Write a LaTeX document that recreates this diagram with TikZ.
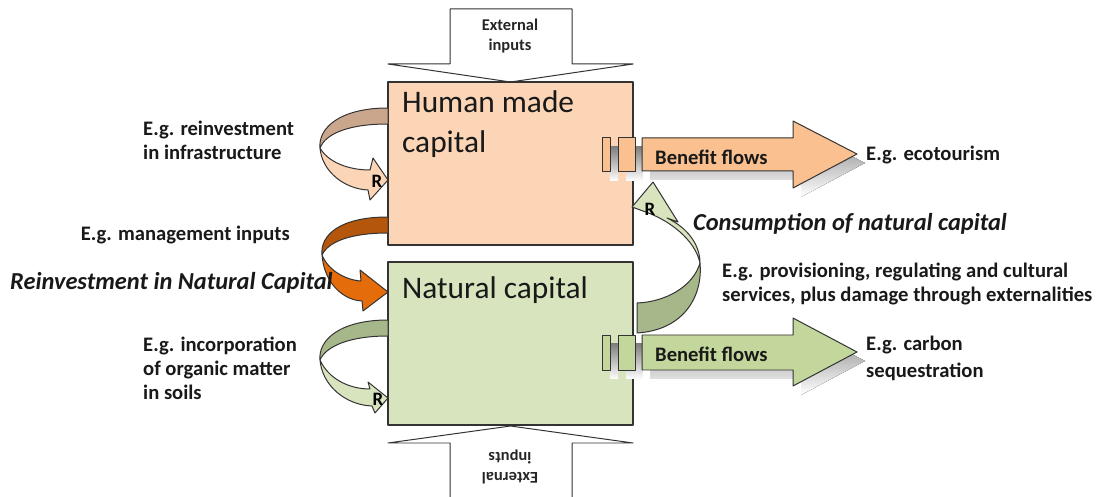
\documentclass[tikz,border=0pt]{standalone}
\usepackage{fontspec}
\setmainfont{Carlito}

\definecolor{hmfill}{HTML}{FBD5B5}
\definecolor{hmback}{HTML}{C9A68C}
\definecolor{hmflow}{HTML}{FAC090}
\definecolor{ncfill}{HTML}{D7E4BD}
\definecolor{ncback}{HTML}{A6B78A}
\definecolor{ncflow}{HTML}{C3D69B}
\definecolor{orfront}{HTML}{E46C0A}
\definecolor{orback}{HTML}{B4560C}
\definecolor{shade}{HTML}{C8C8C8}

\tikzset{
  edge/.style={draw=black!80, line width=1pt},
  capbox/.style={edge, line width=1.3pt, minimum width=245bp, minimum height=163bp, inner sep=0pt},
  lbl/.style={font=\fontsize{20.7}{24}\selectfont\bfseries, align=left, inner sep=0pt, text=black!90},
  bigital/.style={font=\fontsize{24.5}{28}\selectfont\bfseries\itshape, inner sep=0pt, text=black!90},
  captext/.style={font=\fontsize{31.5}{40}\selectfont, align=left, inner sep=0pt, text=black!90},
  rmark/.style={font=\fontsize{19}{19}\selectfont\bfseries, inner sep=0pt},
  small/.style={font=\fontsize{16.5}{20}\selectfont\bfseries, align=center, inner sep=0pt, text=black!85}
}

\begin{document}
\begin{tikzpicture}[x=1bp, y=-1bp, line join=round]
\useasboundingbox (0,0) rectangle (1105,497);

% external inputs, top and bottom
\draw [edge, fill=white] (450,9) -- (572,9) -- (572,64) -- (633,64) -- (510.5,82) -- (388,64) -- (450,64) -- cycle;
\node [small] (extin) at (510,36) {External\\inputs};
\draw [edge, fill=white] (450,500) -- (450,443) -- (388,443) -- (510.5,426) -- (633,443) -- (572,443) -- (572,500);
\node [small, rotate=180] (extout) at (510,467) {External\\inputs};

% the two capital boxes
\node [capbox, fill=hmfill] (hmcap) at (510.5,163.5) {};
\node [capbox, fill=ncfill] (nccap) at (510.5,343.5) {};
\node [captext, anchor=west] (hmtxt) at (402,124) {Human made\\capital};
\node [captext, anchor=west] (nctxt) at (402,290) {Natural capital};

% benefit flows (shadow first)
\begin{scope}[shift={(8,9)}]
\fill [shade] (642,138) -- (793,138) -- (793,121) -- (857,154) -- (793,188) -- (793,171) -- (642,171) -- cycle;
\fill [shade] (602,138) rectangle (610,172);
\fill [shade] (618,138) rectangle (635,172);
\fill [shade] (642,335) -- (793,335) -- (793,318) -- (857,352) -- (793,386) -- (793,370) -- (642,370) -- cycle;
\fill [shade] (602,335) rectangle (610,370);
\fill [shade] (618,335) rectangle (635,370);
\end{scope}
\draw [edge, fill=hmflow] (642,138) -- (793,138) -- (793,121) -- (857,154) -- (793,188) -- (793,171) -- (642,171) -- cycle;
\draw [edge, fill=hmflow] (602,138) rectangle (610,172);
\draw [edge, fill=hmflow] (618,138) rectangle (635,172);
\draw [edge, fill=ncflow] (642,335) -- (793,335) -- (793,318) -- (857,352) -- (793,386) -- (793,370) -- (642,370) -- cycle;
\draw [edge, fill=ncflow] (602,335) rectangle (610,370);
\draw [edge, fill=ncflow] (618,335) rectangle (635,370);
\node [lbl, anchor=west] (bftop) at (655,157) {Benefit flows};
\node [lbl, anchor=west] (bfbot) at (655,354) {Benefit flows};

% reinvestment loop, human made capital
\draw [edge, fill=hmback] (388,108) .. controls (340,108) and (318,128) .. (320,148) .. controls (326,133) and (350,124) .. (388,124) -- cycle;
\draw [edge, fill=hmfill] (320,148) .. controls (322,172) and (345,189) .. (368,190) -- (370,200) -- (388,180) -- (373,158) -- (370,170) .. controls (348,170) and (328,162) .. (320,148) -- cycle;
\node [rmark] (rtop) at (377,181) {R};

% reinvestment in natural capital
\draw [edge, fill=orback] (388,217) .. controls (340,217) and (320,235) .. (322,255) .. controls (328,242) and (350,233) .. (388,233) -- cycle;
\draw [edge, fill=orfront] (322,255) .. controls (324,282) and (342,300) .. (362,301) -- (363,311) -- (388,292) -- (360,270) -- (361,281) .. controls (345,280) and (328,270) .. (322,255) -- cycle;

% reinvestment loop, natural capital
\draw [edge, fill=ncback] (388,320) .. controls (340,320) and (318,340) .. (320,360) .. controls (326,346) and (350,336) .. (388,336) -- cycle;
\draw [edge, fill=ncfill] (320,360) .. controls (322,385) and (345,405) .. (372,406) -- (375,413) -- (388,398) -- (368,382) -- (370,389) .. controls (348,389) and (328,378) .. (320,360) -- cycle;
\node [rmark] (rbot) at (378,399) {R};

% consumption of natural capital
\draw [edge, fill=ncback] (637,333) .. controls (685,330) and (703,295) .. (700,263) .. controls (693,287) and (665,302) .. (637,303) -- cycle;
\draw [edge, fill=ncfill] (700,263) .. controls (700,245) and (688,228) .. (667,218) -- (678,222) -- (653,182) -- (632,207) -- (643,211) .. controls (670,220) and (695,240) .. (700,263) -- cycle;
\node [rmark] (rright) at (650,209) {R};

% labels
\node [lbl, anchor=west] (infra) at (143,140) {E.g. reinvestment\\in infrastructure};
\node [lbl, anchor=east] (mgmt) at (290,235) {E.g. management inputs};
\node [bigital, anchor=west] (reinv) at (10,283) {Reinvestment in Natural Capital};
\node [lbl, anchor=west] (soils) at (143,368) {E.g. incorporation\\of organic matter\\in soils};
\node [bigital, anchor=west] (consum) at (693,224) {Consumption of natural capital};
\node [lbl, anchor=west] (servic) at (722,284) {E.g. provisioning, regulating and cultural\\services, plus damage through externalities};
\node [lbl, anchor=west] (ecot) at (866,155) {E.g. ecotourism};
\node [lbl, anchor=west, font=\fontsize{20.7}{27}\selectfont\bfseries] (carbon) at (866,358) {E.g. carbon\\sequestration};
\end{tikzpicture}
\end{document}
